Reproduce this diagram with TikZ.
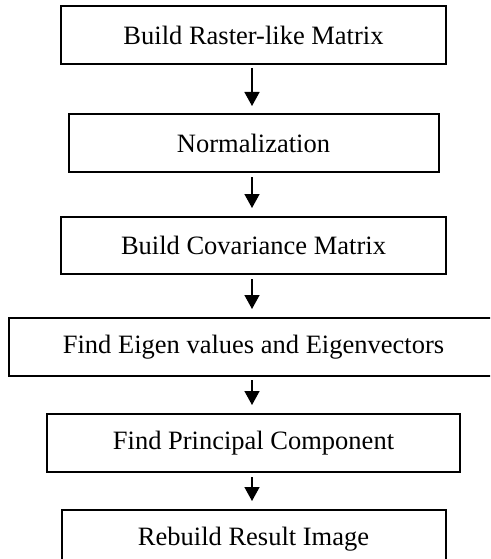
\documentclass[tikz,border=0pt]{standalone}
\usepackage{fontspec}
\setmainfont{Liberation Serif}
\usetikzlibrary{arrows.meta}
\tikzset{
  box/.style={draw=black, line width=2pt, inner sep=0pt, fill=white,
    font=\fontsize{26.5}{30}\selectfont, text=black},
  arr/.style={line width=1.5pt, -{Triangle[width=15pt,length=14pt]}}
}
\begin{document}
\begin{tikzpicture}[x=1pt,y=-1pt]
\clip (0,0) rectangle (490,559);
\fill[white] (0,0) rectangle (490,559);
\node[box, minimum width=385pt, minimum height=58pt] (b1) at (253.5,35) {Build Raster-like Matrix};
\node[box, minimum width=370pt, minimum height=58pt] (b2) at (253.5,143) {Normalization};
\node[box, minimum width=385pt, minimum height=57pt] (b3) at (253.5,245.5) {Build Covariance Matrix};
\node[box, minimum width=489pt, minimum height=58pt] (b4) at (253.5,347) {Find Eigen values and Eigenvectors};
\node[box, minimum width=413pt, minimum height=58pt] (b5) at (253.5,443) {Find Principal Component};
\node[box, minimum width=384pt, minimum height=58pt] (b6) at (253.5,539) {Rebuild Result Image};
\draw[arr] ([yshift=-3pt]b1.south -| 252,0) -- ([yshift=7pt]b2.north -| 252,0);
\draw[arr] ([yshift=-4pt]b2.south -| 252,0) -- ([yshift=8pt]b3.north -| 252,0);
\draw[arr] ([yshift=-4pt]b3.south -| 252,0) -- ([yshift=8pt]b4.north -| 252,0);
\draw[arr] ([yshift=-3pt]b4.south -| 252,0) -- ([yshift=8pt]b5.north -| 252,0);
\draw[arr] ([yshift=-4pt]b5.south -| 252,0) -- ([yshift=8pt]b6.north -| 252,0);
\end{tikzpicture}
\end{document}
